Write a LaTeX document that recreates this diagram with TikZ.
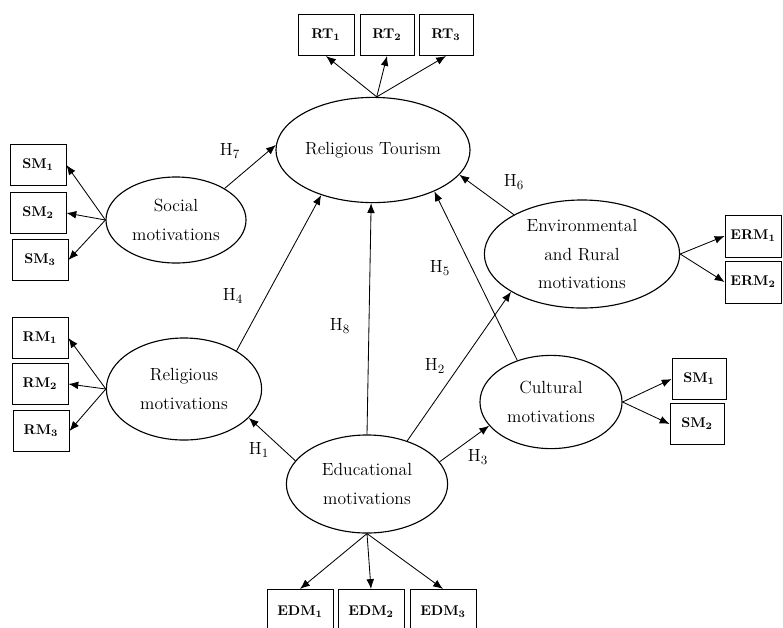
\documentclass[tikz,border=0pt]{standalone}
\usepackage{amssymb}
\usetikzlibrary{calc,shapes,arrows.meta}

\tikzset{
  >={Latex[length=7pt,width=5.5pt]},
  factor/.style={draw,ellipse,thick,inner sep=0pt,align=center,
    font=\fontsize{12.5}{20.5}\selectfont},
  item/.style={draw,semithick,inner sep=0pt,minimum width=1.4cm,minimum height=1.03cm,
    font=\fontsize{10}{12}\selectfont\bfseries},
  hyp/.style={font=\fontsize{12.5}{14}\selectfont},
  path/.style={->,semithick}
}

\begin{document}
\begin{tikzpicture}[x=0.025cm,y=-0.025cm]
      \useasboundingbox (0,0) rectangle (783,627);

      % latent constructs
      \node[factor,minimum width=4.85cm,minimum height=2.63cm] (rt) at (373,150) {Religious Tourism};
      \node[factor,minimum width=3.5cm,minimum height=2.15cm] (soc) at (176,220) {Social\\motivations};
      \node[factor,minimum width=4.88cm,minimum height=2.7cm] (env) at (582,254) {Environmental\\and Rural\\motivations};
      \node[factor,minimum width=3.88cm,minimum height=2.55cm] (rel) at (184,389) {Religious\\motivations};
      \node[factor,minimum width=3.55cm,minimum height=2.33cm] (cul) at (551,402) {Cultural\\motivations};
      \node[factor,minimum width=4.03cm,minimum height=2.45cm] (edu) at (367,484) {Educational\\motivations};

      % indicators
      \node[item] (rt1) at (326,35) {RT$_{\mathbf{1}}$};
      \node[item,minimum width=1.35cm] (rt2) at (387,35) {RT$_{\mathbf{2}}$};
      \node[item,minimum width=1.35cm] (rt3) at (446,35) {RT$_{\mathbf{3}}$};

      \node[item] (sm1) at (38,165) {SM$_{\mathbf{1}}$};
      \node[item] (sm2) at (38,213) {SM$_{\mathbf{2}}$};
      \node[item] (sm3) at (40,260) {SM$_{\mathbf{3}}$};

      \node[item] (rm1) at (40,338) {RM$_{\mathbf{1}}$};
      \node[item] (rm2) at (40,384) {RM$_{\mathbf{2}}$};
      \node[item] (rm3) at (41,431) {RM$_{\mathbf{3}}$};

      \node[item,minimum width=1.65cm,minimum height=1.13cm] (edm1) at (300,612) {EDM$_{\mathbf{1}}$};
      \node[item,minimum width=1.65cm,minimum height=1.13cm] (edm2) at (371,612) {EDM$_{\mathbf{2}}$};
      \node[item,minimum width=1.65cm,minimum height=1.13cm] (edm3) at (443,612) {EDM$_{\mathbf{3}}$};

      \node[item,minimum height=1.05cm] (erm1) at (753,236) {ERM$_{\mathbf{1}}$};
      \node[item,minimum height=1.05cm] (erm2) at (753,282) {ERM$_{\mathbf{2}}$};

      \node[item,minimum width=1.35cm] (csm1) at (699,379) {SM$_{\mathbf{1}}$};
      \node[item,minimum width=1.35cm] (csm2) at (697,424) {SM$_{\mathbf{2}}$};

      \path[path] (rt.86) edge (rt1.south) (rt.86) edge (rt2.south) (rt.86) edge (rt3.south);
      \path[path] (soc.west) edge (sm1.east) (soc.west) edge (sm2.east) (soc.west) edge (sm3.east);
      \path[path] (rel.west) edge (rm1.east) (rel.west) edge (rm2.east) (rel.west) edge (rm3.east);
      \path[path] (edu.south) edge (edm1.north) (edu.south) edge (edm2.north) (edu.south) edge (edm3.north);
      \path[path] (env.east) edge (erm1.west) (env.east) edge (erm2.west);
      \path[path] (cul.east) edge (csm1.west) (cul.east) edge (csm2.west);

      % hypotheses
      \path[path] (soc.33) edge (rt.177)
      (rel.36) edge (rt.221)
      (edu.90) edge (rt.268)
      (cul.129) edge (rt.326)
      (env.150) edge (rt.344)
      (edu.47) edge (env.208)
      (edu.162) edge (rel.336)
      (edu.17) edge (cul.201);

      \node[hyp] (h7) at (230,151) {H$_7$};
      \node[hyp] (h4) at (233,296) {H$_4$};
      \node[hyp] (h8) at (340,326) {H$_8$};
      \node[hyp] (h5) at (440,268) {H$_5$};
      \node[hyp] (h6) at (514,182) {H$_6$};
      \node[hyp] (h2) at (435,366) {H$_2$};
      \node[hyp] (h1) at (259,450) {H$_1$};
      \node[hyp] (h3) at (478,457) {H$_3$};
    \end{tikzpicture}
\end{document}
